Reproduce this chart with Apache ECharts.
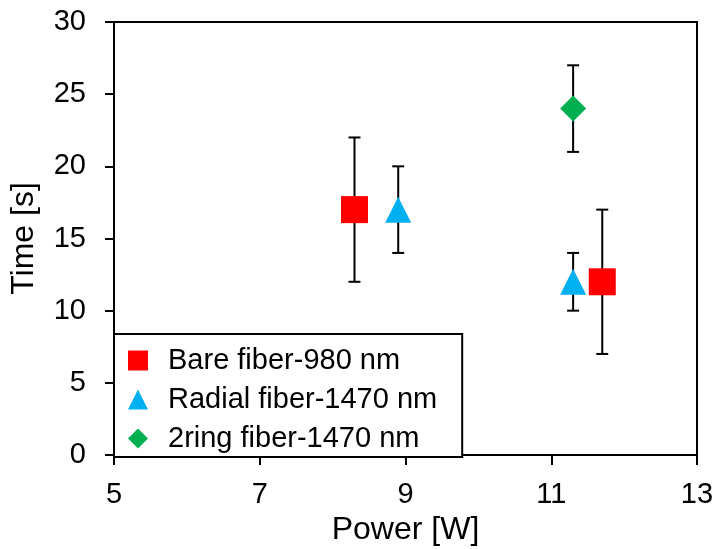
<!DOCTYPE html>
<html>
<head>
<meta charset="utf-8">
<script src="https://cdn.jsdelivr.net/npm/echarts@6/dist/echarts.min.js"></script>
<style>
  html, body { margin: 0; padding: 0; background: #fff; }
  #chart { width: 717px; height: 549px; }
</style>
</head>
<body>
<div id="chart"></div>
<script>
// Heating time vs. laser power for three fiber types (mean ± error)
const seriesNames = ['Bare fiber-980 nm', 'Radial fiber-1470 nm', '2ring fiber-1470 nm'];
const barePower = [8.3, 11.7];
const bareTime = [17, 12];
const bareErr = [5, 5];
const radialPower = [8.9, 11.3];
const radialTime = [17, 12];
const radialErr = [3, 2];
const ringPower = [11.3];
const ringTime = [24];
const ringErr = [3];
const xTicks = [5, 7, 9, 11, 13];
const yTicks = [0, 5, 10, 15, 20, 25, 30];

const FONT = '"Liberation Sans", Arial, sans-serif';

function points(xs, ys) { return xs.map((x, i) => [x, ys[i]]); }
function errRows(xs, ys, es) { return xs.map((x, i) => [x, ys[i] - es[i], ys[i] + es[i]]); }

const errData = [].concat(
  errRows(barePower, bareTime, bareErr),
  errRows(radialPower, radialTime, radialErr),
  errRows(ringPower, ringTime, ringErr)
);

// vertical whisker with flat caps, drawn under the markers
function renderErr(params, api) {
  const x = api.value(0);
  const lo = api.coord([x, api.value(1)]);
  const hi = api.coord([x, api.value(2)]);
  const cap = 6;
  const style = { stroke: '#000', lineWidth: 2 };
  return {
    type: 'group',
    children: [
      { type: 'line', shape: { x1: lo[0], y1: lo[1], x2: hi[0], y2: hi[1] }, style },
      { type: 'line', shape: { x1: lo[0] - cap, y1: lo[1], x2: lo[0] + cap, y2: lo[1] }, style },
      { type: 'line', shape: { x1: hi[0] - cap, y1: hi[1], x2: hi[0] + cap, y2: hi[1] }, style }
    ]
  };
}

const chart = echarts.init(document.getElementById('chart'), null, { renderer: 'canvas' });

const tickText = { color: '#000', fontSize: 29, fontFamily: FONT };
const nameText = { color: '#000', fontSize: 32, fontFamily: FONT };

chart.setOption({
  animation: false,
  backgroundColor: '#fff',
  grid: {
    left: 114, right: 20, top: 22, bottom: 94,
    outerBoundsMode: 'none', containLabel: false,
    show: true, borderColor: '#000', borderWidth: 2, backgroundColor: 'transparent'
  },
  xAxis: {
    type: 'value', min: xTicks[0], max: xTicks[xTicks.length - 1], interval: 2,
    name: 'Power [W]', nameLocation: 'middle', nameGap: 55,
    nameTextStyle: nameText,
    axisLine: { show: true, onZero: false, lineStyle: { color: '#000', width: 2 } },
    axisTick: { show: true, inside: false, length: 10, lineStyle: { color: '#000', width: 2 } },
    axisLabel: Object.assign({ margin: 25 }, tickText),
    splitLine: { show: false }
  },
  yAxis: {
    type: 'value', min: yTicks[0], max: yTicks[yTicks.length - 1], interval: 5,
    name: 'Time [s]', nameLocation: 'middle', nameGap: 74, nameRotate: 90,
    nameTextStyle: nameText,
    axisLine: { show: true, lineStyle: { color: '#000', width: 2 } },
    axisTick: { show: true, inside: false, length: 9, lineStyle: { color: '#000', width: 2 } },
    axisLabel: Object.assign({ margin: 28 }, tickText),
    splitLine: { show: false }
  },
  legend: {
    orient: 'vertical',
    left: 114, top: 334,
    padding: [12, 25, 4, 14],
    itemGap: 10,
    itemWidth: 20, itemHeight: 20,
    borderColor: '#000', borderWidth: 2,
    backgroundColor: '#fff',
    data: seriesNames,
    textStyle: { color: '#000', fontSize: 29, fontFamily: FONT, padding: [0, 0, 0, 15] }
  },
  series: [
    {
      type: 'custom', name: 'err', renderItem: renderErr, data: errData,
      encode: { x: 0, y: [1, 2] }, z: 1, silent: true
    },
    {
      type: 'scatter', name: seriesNames[0], data: points(barePower, bareTime),
      symbol: 'rect', symbolSize: 27, itemStyle: { color: '#FF0000', opacity: 1 }, z: 3
    },
    {
      type: 'scatter', name: seriesNames[1], data: points(radialPower, radialTime),
      symbol: 'triangle', symbolSize: 26, itemStyle: { color: '#00B0F0', opacity: 1 }, z: 3
    },
    {
      type: 'scatter', name: seriesNames[2], data: points(ringPower, ringTime),
      symbol: 'diamond', symbolSize: 26, itemStyle: { color: '#00B050', opacity: 1 }, z: 3
    }
  ]
});
</script>
</body>
</html>
